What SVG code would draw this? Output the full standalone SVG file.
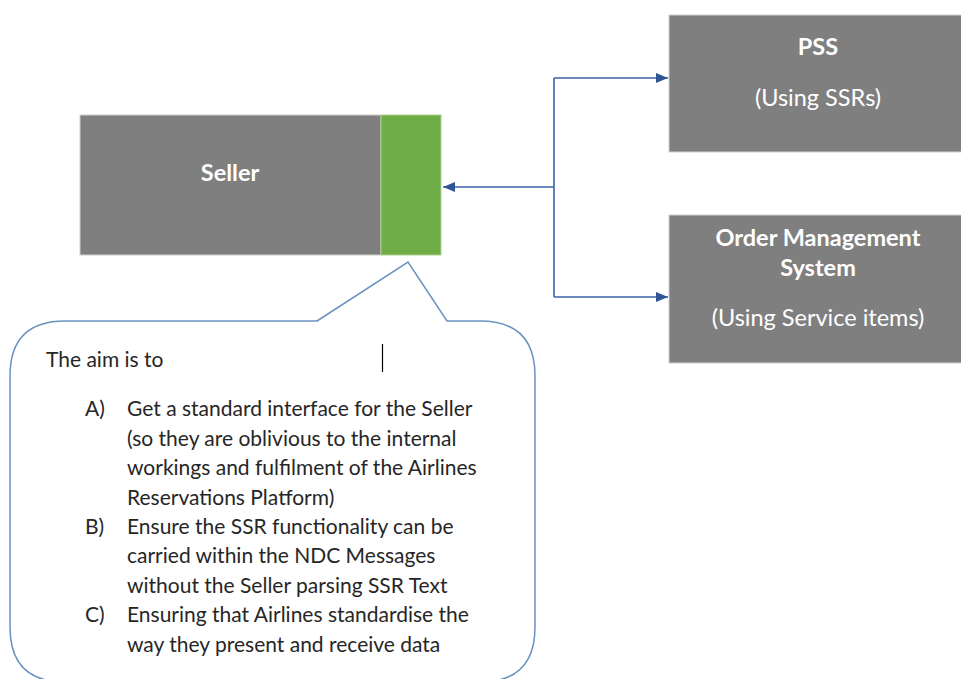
<svg xmlns="http://www.w3.org/2000/svg" width="961" height="679" viewBox="0 0 961 679">
<style>
.box{fill:#7f7f7f;stroke:#d0d0d0;stroke-width:1}
.green{fill:#70ad47;stroke:#a9d18e;stroke-width:1}
.bt{font-family:Lato,"Open Sans",sans-serif;font-weight:bold;font-size:23.5px;fill:#ffffff;text-anchor:middle}
.nt{font-family:Lato,"Open Sans",sans-serif;font-size:23.5px;fill:#ffffff;text-anchor:middle}
.ct{font-family:Lato,"Open Sans",sans-serif;font-size:21px;fill:#262626}
.conn{fill:none;stroke:#3b62a8;stroke-width:1.6}
</style>
<defs>
<marker id="ah" viewBox="0 0 12 10" refX="12" refY="5" markerWidth="12" markerHeight="10" markerUnits="userSpaceOnUse" orient="auto">
<path d="M0,0 L12,5 L0,10 Z" fill="#2f5597"/>
</marker>
</defs>
<rect width="961" height="679" fill="#ffffff"/>
<g id="seller">
<rect class="box" x="80" y="115" width="301" height="140"/>
<rect class="green" x="381" y="115" width="60" height="140"/>
<text class="bt" x="230" y="181">Seller</text>
</g>
<g id="pss">
<rect class="box" x="669" y="15" width="300" height="137"/>
<text class="bt" x="818" y="55">PSS</text>
<text class="nt" x="818" y="106">(Using SSRs)</text>
</g>
<g id="oms">
<rect class="box" x="669" y="215" width="300" height="148"/>
<text class="bt" x="818" y="246">Order Management</text>
<text class="bt" x="818" y="276">System</text>
<text class="nt" x="818" y="326">(Using Service items)</text>
</g>
<g id="connectors">
<path class="conn" d="M554,187 L443,187" marker-end="url(#ah)"/>
<path class="conn" d="M554,78 L554,297"/>
<path class="conn" d="M554,78 L668,78" marker-end="url(#ah)"/>
<path class="conn" d="M554,297 L668,297" marker-end="url(#ah)"/>
</g>
<g id="callout">
<path d="M317,321 L408,262 L447,321 L480,321 Q535,321 535,376 L535,627 Q535,682 480,682 L65,682 Q10,682 10,627 L10,376 Q10,321 65,321 Z" fill="#ffffff" stroke="#6a93c2" stroke-width="1.5"/>
<line x1="382.5" y1="344" x2="382.5" y2="372" stroke="#000000" stroke-width="1.2"/>
<text class="ct" x="46" y="367">The aim is to</text>
<text class="ct" x="85" y="416">A)</text>
<text class="ct" x="127" y="416">Get a standard interface for the Seller</text>
<text class="ct" x="127" y="445.5">(so they are oblivious to the internal</text>
<text class="ct" x="127" y="475">workings and fulfilment of the Airlines</text>
<text class="ct" x="127" y="504.5">Reservations Platform)</text>
<text class="ct" x="85" y="534">B)</text>
<text class="ct" x="127" y="534">Ensure the SSR functionality can be</text>
<text class="ct" x="127" y="563">carried within the NDC Messages</text>
<text class="ct" x="127" y="592.5">without the Seller parsing SSR Text</text>
<text class="ct" x="85" y="622">C)</text>
<text class="ct" x="127" y="622">Ensuring that Airlines standardise the</text>
<text class="ct" x="127" y="651.5">way they present and receive data</text>
</g>
</svg>
